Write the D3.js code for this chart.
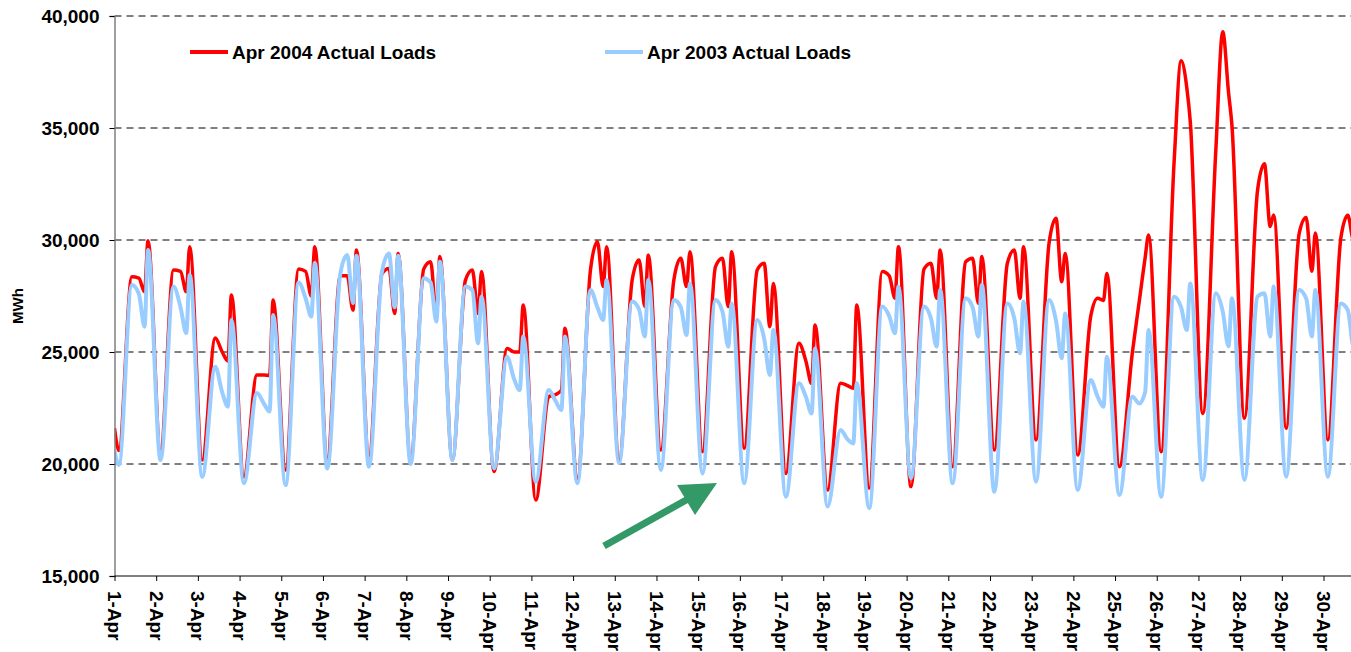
<!DOCTYPE html>
<html>
<head>
<meta charset="utf-8">
<script src="https://cdn.jsdelivr.net/npm/d3@7"></script>
<style>
  body { margin: 0; background: #fff; }
  text { font-family: "Liberation Sans", Arial, sans-serif; font-weight: bold; fill: #000; }
</style>
</head>
<body>
<svg id="chart"></svg>
<script>
// hours of the day at which each daily value below was read off the picture:
// early-morning low, late morning, early afternoon, late-afternoon dip, evening peak
const sampleHours = [2.5, 10, 14, 17.3, 19.3];

const dayLabels = ["1-Apr", "2-Apr", "3-Apr", "4-Apr", "5-Apr", "6-Apr", "7-Apr", "8-Apr", "9-Apr", "10-Apr",
  "11-Apr", "12-Apr", "13-Apr", "14-Apr", "15-Apr", "16-Apr", "17-Apr", "18-Apr", "19-Apr", "20-Apr",
  "21-Apr", "22-Apr", "23-Apr", "24-Apr", "25-Apr", "26-Apr", "27-Apr", "28-Apr", "29-Apr", "30-Apr"];

const yTicks = [15000, 20000, 25000, 30000, 35000, 40000];

// Apr 2004 actual loads (MWh)
const start2004 = 21600;
const load2004 = [
  [20600, 28360, 28300, 27690, 29970],
  [20600, 28660, 28600, 27690, 29700],
  [20180, 25620, 25000, 24600, 27550],
  [19430, 23970, 23970, 23950, 27320],
  [19730, 28700, 28600, 27500, 29700],
  [20250, 28400, 28400, 26870, 29550],
  [20330, 28500, 28730, 26720, 29400],
  [20180, 28700, 29030, 26580, 29260],
  [20180, 28200, 28660, 26720, 28590],
  [19660, 25160, 25000, 25000, 27100],
  [18390, 23000, 23100, 23300, 26060],
  [19360, 28660, 29920, 27920, 29700],
  [20180, 28210, 29110, 27030, 29330],
  [20620, 28210, 29180, 27920, 29480],
  [20550, 28810, 29180, 27030, 29480],
  [20700, 28660, 28960, 26130, 28060],
  [19580, 25390, 24600, 23600, 26200],
  [18840, 23600, 23500, 23380, 27100],
  [18920, 28590, 28400, 27400, 29700],
  [18990, 28700, 28960, 27400, 29550],
  [19880, 29030, 29180, 27170, 29260],
  [20620, 28960, 29550, 27400, 29700],
  [21070, 29850, 30970, 28140, 29400],
  [20400, 26600, 27400, 27300, 28510],
  [19880, 25000, 27300, 29200, 30220],
  [20550, 33500, 38000, 36800, 35290],
  [22260, 34000, 39300, 36600, 35100],
  [22040, 32200, 33400, 30600, 31120],
  [21590, 30300, 31000, 28600, 30310],
  [21070, 30100, 31100, 30000, 30500]
];
const end2004 = 21000;

// Apr 2003 actual loads (MWh)
const start2003 = 20600;
const load2003 = [
  [19955, 27990, 27600, 26130, 29550],
  [20180, 27920, 27000, 25850, 28440],
  [19430, 24340, 23200, 22560, 26430],
  [19140, 23170, 22700, 22340, 26650],
  [19060, 28100, 27400, 26580, 28970],
  [19800, 28500, 29330, 27180, 29300],
  [19880, 28600, 29400, 27000, 29300],
  [20000, 28290, 28100, 26360, 29030],
  [20180, 27920, 27770, 25390, 27470],
  [19800, 24790, 23800, 23300, 25690],
  [19210, 23300, 22800, 22410, 25690],
  [19140, 27770, 27000, 26430, 28210],
  [20030, 27250, 26900, 25690, 28210],
  [19730, 27320, 27000, 25760, 28060],
  [19580, 27320, 26800, 25240, 27170],
  [19140, 26430, 25600, 23970, 25980],
  [18540, 23600, 23000, 22260, 25160],
  [18100, 21520, 21100, 20920, 23600],
  [18030, 27030, 26600, 25840, 27920],
  [19360, 27030, 26500, 25240, 27770],
  [19140, 27400, 27000, 25690, 27990],
  [18760, 27170, 26500, 24940, 27250],
  [19210, 27320, 26400, 24720, 26720],
  [18840, 23750, 23000, 22560, 24790],
  [18620, 23000, 22700, 23200, 25980],
  [18540, 27470, 27000, 25980, 28060],
  [19290, 27620, 26800, 25250, 27400],
  [19290, 27470, 27620, 25690, 27920],
  [19430, 27770, 27400, 25690, 27770],
  [19430, 27170, 26870, 25240, 27000]
];
const end2003 = 19400;

const series = [
  { name: "Apr 2004 Actual Loads", color: "#ff0000", width: 3.5, start: start2004, days: load2004, end: end2004, legendX: 190 },
  { name: "Apr 2003 Actual Loads", color: "#99ccff", width: 4, start: start2003, days: load2003, end: end2003, legendX: 605 }
];

function toPoints(s) {
  let pts = [{ h: 0, v: s.start }];
  s.days.forEach((row, i) => {
    row.forEach((v, j) => pts.push({ h: i * 24 + sampleHours[j], v: v }));
  });
  pts.push({ h: s.days.length * 24 + sampleHours[0], v: s.end });
  return pts;
}

const width = 1351, height = 652;
const plotLeft = 114.5, plotTop = 16, plotBottom = 576;
const dayWidth = 41.69;

const svg = d3.select("#chart").attr("width", width).attr("height", height);

const x = d3.scaleLinear().domain([0, 30 * 24]).range([plotLeft, plotLeft + 30 * dayWidth]);
const y = d3.scaleLinear().domain([15000, 40000]).range([plotBottom, plotTop]);

// dashed gridlines
svg.append("g")
  .selectAll("line")
  .data(yTicks.filter(d => d > 15000))
  .join("line")
    .attr("x1", plotLeft).attr("x2", width)
    .attr("y1", d => y(d)).attr("y2", d => y(d))
    .attr("stroke", "#000")
    .attr("stroke-width", 1)
    .attr("stroke-dasharray", "7,5");

svg.append("clipPath").attr("id", "plot-clip")
  .append("rect")
    .attr("x", plotLeft).attr("y", 0)
    .attr("width", width - plotLeft).attr("height", plotBottom);

const line = d3.line()
  .x(d => x(d.h))
  .y(d => y(d.v))
  .curve(d3.curveMonotoneX);

svg.append("g")
  .attr("clip-path", "url(#plot-clip)")
  .selectAll("path")
  .data(series)
  .join("path")
    .attr("d", d => line(toPoints(d)))
    .attr("fill", "none")
    .attr("stroke", d => d.color)
    .attr("stroke-width", d => d.width)
    .attr("stroke-linejoin", "round");

// y axis
const yAxis = svg.append("g")
  .attr("transform", `translate(${plotLeft},0)`)
  .call(d3.axisLeft(y).tickValues(yTicks).tickFormat(d3.format(",")).tickSize(5).tickPadding(10));
yAxis.select(".domain").attr("stroke", "#808080").attr("stroke-width", 1.5);
yAxis.selectAll(".tick line").attr("stroke", "#000");
yAxis.selectAll("text").style("font-size", "19px");

// x axis
const xAxis = svg.append("g")
  .attr("transform", `translate(0,${plotBottom})`)
  .call(d3.axisBottom(x).tickValues(d3.range(0, 30 * 24 + 1, 24)).tickSize(5).tickFormat(""));
xAxis.select(".domain").remove();
xAxis.append("line")
  .attr("x1", plotLeft).attr("x2", width)
  .attr("stroke", "#000").attr("stroke-width", 1);

svg.append("g")
  .selectAll("text")
  .data(dayLabels)
  .join("text")
    .attr("transform", (d, i) => `translate(${x(i * 24)},${plotBottom + 15}) rotate(90)`)
    .attr("dy", "0.35em")
    .style("font-size", "19px")
    .text(d => d);

svg.append("text")
  .attr("transform", `translate(23,306) rotate(-90)`)
  .attr("text-anchor", "middle")
  .style("font-size", "15px")
  .text("MWh");

// legend
const legend = svg.append("g").selectAll("g").data(series).join("g")
  .attr("transform", d => `translate(${d.legendX},52)`);
legend.append("line")
  .attr("x1", 0).attr("x2", 38)
  .attr("stroke", d => d.color)
  .attr("stroke-width", 4);
legend.append("text")
  .attr("x", 42)
  .attr("dy", "0.35em")
  .style("font-size", "19px")
  .text(d => d.name);

// green arrow annotation
const arrowColor = "#339966";
svg.append("line")
  .attr("x1", 604).attr("y1", 546)
  .attr("x2", 688).attr("y2", 499)
  .attr("stroke", arrowColor)
  .attr("stroke-width", 7);
svg.append("path")
  .attr("d", "M717,483 L677,485 L695,515 Z")
  .attr("fill", arrowColor);
</script>
</body>
</html>
